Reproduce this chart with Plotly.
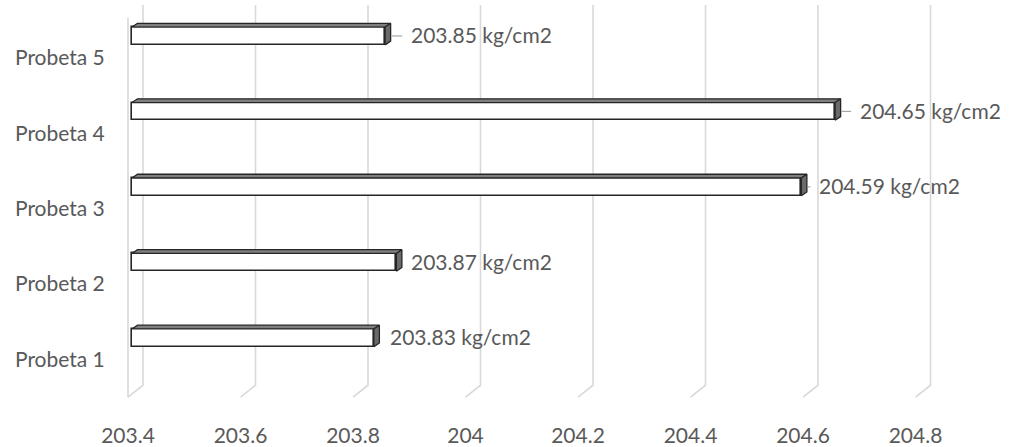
import plotly.graph_objects as go

# ---- data ----
categories = ["Probeta 1", "Probeta 2", "Probeta 3", "Probeta 4", "Probeta 5"]
values = [203.83, 203.87, 204.59, 204.65, 203.85]
label_texts = ["203.83 kg/cm2", "203.87 kg/cm2", "204.59 kg/cm2", "204.65 kg/cm2", "203.85 kg/cm2"]
tick_values = [203.4, 203.6, 203.8, 204.0, 204.2, 204.4, 204.6, 204.8]
tick_labels = ["203.4", "203.6", "203.8", "204", "204.2", "204.4", "204.6", "204.8"]
axis_min = 203.4

# ---- geometry / style (pixel based) ----
W, H = 1011, 447
ML, MR, MT, MB = 120, 61, 0, 37
PX_X = 562.5          # pixels per x unit
PX_Y = 76.4           # pixels per category
plot_w = W - ML - MR
plot_h = H - MT - MB
x0 = axis_min - 8 / PX_X
x1 = x0 + plot_w / PX_X
y_bottom_px = 342 + 68  # pixel of range bottom
y0 = -(y_bottom_px - 342) / PX_Y
y1 = y0 + plot_h / PX_Y

def ypx(p):  # pixel (from top) -> y data
    return (342 - p) / PX_Y

bar_shift = 4 / PX_X
bar_h = 18 / PX_Y
ddx = 5.5 / PX_X
ddy = 3.8 / PX_Y
label_offsets = [18, 17, 20, 27, 28]
leader = [False, False, True, True, True]

FONT = "Lato, 'Open Sans', sans-serif"
TXT = "#595959"
GRID = "#d9d9d9"
FS = 21

fig = go.Figure()

# gridlines (back wall + floor) as shapes below traces
shapes = []
wall_dx = 15 / PX_X
for v in tick_values:
    bx = v + wall_dx
    shapes.append(dict(type="path", xref="x", yref="y", layer="below",
                       path=f"M {bx},{ypx(5)} L {bx},{ypx(390)} L {v},{ypx(402)}",
                       line=dict(color=GRID, width=1.6)))
# left side wall front edge
shapes.append(dict(type="line", xref="x", yref="y", layer="below",
                   x0=axis_min, x1=axis_min, y0=ypx(18), y1=ypx(402),
                   line=dict(color=GRID, width=1.6)))

ys = list(range(len(categories)))

# front faces
fig.add_trace(go.Bar(
    y=ys, x=[v - axis_min for v in values], base=axis_min + bar_shift,
    orientation="h", width=bar_h,
    marker=dict(color="white", line=dict(color="#262626", width=1.6)),
    hoverinfo="skip", showlegend=False))

# top and side faces
for i, v in enumerate(values):
    xl = axis_min + bar_shift
    xr = v + bar_shift
    yt = i + bar_h / 2
    yb = i - bar_h / 2
    fig.add_trace(go.Scatter(
        x=[xl, xr, xr + ddx, xl + ddx, xl], y=[yt, yt, yt + ddy, yt + ddy, yt],
        fill="toself", fillcolor="#7f7f7f", mode="lines",
        line=dict(color="#262626", width=1.3), hoverinfo="skip", showlegend=False))
    fig.add_trace(go.Scatter(
        x=[xr, xr + ddx, xr + ddx, xr, xr], y=[yb, yb + ddy, yt + ddy, yt, yb],
        fill="toself", fillcolor="#6a6a6a", mode="lines",
        line=dict(color="#262626", width=1.3), hoverinfo="skip", showlegend=False))
    if leader[i]:
        lx0 = xr + ddx + 1 / PX_X
        lx1 = v + (label_offsets[i] - 7) / PX_X
        shapes.append(dict(type="line", xref="x", yref="y",
                           x0=lx0, x1=lx1, y0=i, y1=i,
                           line=dict(color="#a6a6a6", width=1.2)))

annotations = []
for i, v in enumerate(values):
    annotations.append(dict(x=v, y=i, xref="x", yref="y", text=label_texts[i],
                            showarrow=False, xanchor="left", yanchor="middle",
                            xshift=label_offsets[i], yshift=1,
                            font=dict(family=FONT, size=FS, color=TXT)))

fig.update_layout(
    width=W, height=H,
    margin=dict(l=ML, r=MR, t=MT, b=MB, pad=0),
    plot_bgcolor="white", paper_bgcolor="white",
    shapes=shapes, annotations=annotations,
    bargap=0,
    xaxis=dict(range=[x0, x1], tickvals=tick_values, ticktext=tick_labels,
               showgrid=False, zeroline=False, showline=False,
               ticks="outside", ticklen=12, tickcolor="rgba(0,0,0,0)",
               tickfont=dict(family=FONT, size=FS, color=TXT)),
    yaxis=dict(range=[y0, y1], tickvals=[i - 0.288 for i in ys], ticktext=categories,
               showgrid=False, zeroline=False, showline=False,
               ticks="outside", ticklen=10, tickcolor="rgba(0,0,0,0)",
               tickfont=dict(family=FONT, size=FS, color=TXT)),
)

fig.write_html("out.html", config={"displayModeBar": False},
               post_script="document.body.style.margin='0px';document.body.style.overflow='hidden';")
